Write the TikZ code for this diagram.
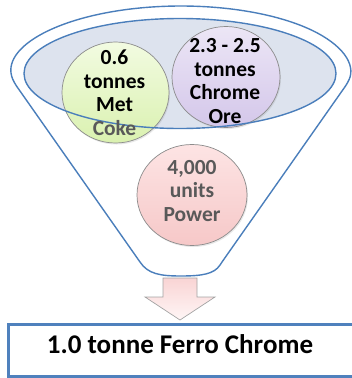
\documentclass[tikz,border=0pt]{standalone}
\usepackage{fontspec}
\setmainfont{Carlito}
\usetikzlibrary{shapes.geometric,shadows,calc}
\definecolor{funnelblue}{RGB}{74,126,187}
\definecolor{boxblue}{RGB}{79,129,189}
\definecolor{ellfill}{RGB}{221,227,238}
\definecolor{greytext}{RGB}{89,89,89}
\definecolor{rimgrey}{RGB}{140,140,140}
\definecolor{greenA}{RGB}{242,251,225}
\definecolor{greenB}{RGB}{218,241,176}
\definecolor{purpA}{RGB}{236,230,246}
\definecolor{purpB}{RGB}{212,199,234}
\definecolor{pinkA}{RGB}{253,228,228}
\definecolor{pinkB}{RGB}{246,200,200}
\definecolor{arrowA}{RGB}{249,212,212}
\definecolor{arrowB}{RGB}{255,246,246}
\tikzset{
  funnelline/.style={draw=funnelblue, line width=1.4pt},
  ingredient/.style={ellipse, draw=rimgrey, line width=0.7pt, inner sep=0pt,
    drop shadow={opacity=0.18, shadow xshift=1pt, shadow yshift=-1.5pt}},
  circtext/.style={align=center, font=\fontsize{21.5}{23.5}\selectfont\bfseries, inner sep=0pt},
}
\begin{document}
\begin{tikzpicture}[x=1pt,y=-1pt]
\useasboundingbox (0,0) rectangle (352,378);
% funnel outline
\draw[funnelline, fill=white, rounded corners=4pt]
  ($(181,72)+(170.4:169 and 66)$) arc[start angle=170.4, end angle=369.6, x radius=169, y radius=66]
  -- (222,262) [sharp corners] .. controls (214,274) and (202,276) .. (181,276)
  .. controls (160,276) and (148,274) .. (140,262) [rounded corners=4pt] -- cycle;
% inner ellipse fill
\node[ellipse, fill=ellfill, minimum width=312, minimum height=110, inner sep=0pt] (mouth) at (180,73.5) {};
% ingredient circles
\node[ingredient, top color=greenA, bottom color=greenB, minimum width=107, minimum height=101] (coke) at (115.5,92.5) {};
\node[ingredient, top color=purpA, bottom color=purpB, minimum width=108, minimum height=101] (ore) at (226,77) {};
\node[ingredient, top color=pinkA, bottom color=pinkB, minimum width=110, minimum height=101] (power) at (192,195) {};
% inner ellipse outline on top
\draw[funnelline] (mouth.center) ellipse[x radius=156, y radius=55];
% texts
\node[circtext] (coketext) at (114.5,92.5) {0.6\\tonnes\\Met\\\textcolor{greytext}{Coke}};
\node[circtext] (oretext) at (225,81) {2.3 - 2.5\\tonnes\\Chrome\\Ore};
\node[circtext, text=greytext] (powertext) at (192,191) {4,000\\units\\Power};
% block arrow
\draw[draw=rimgrey!80, line width=0.7pt, top color=arrowA, bottom color=arrowB]
  (163,278) -- (197,278) -- (197,297) -- (215,297) -- (180,320) -- (145,297) -- (163,297) -- cycle;
% result box
\draw[draw=boxblue, line width=3pt, fill=white] (8.5,324.5) rectangle (360,376.5);
\node[anchor=base, font=\fontsize{27}{30}\selectfont\bfseries, inner sep=0pt] (result) at (180,353) {1.0 tonne Ferro Chrome};
\end{tikzpicture}
\end{document}
